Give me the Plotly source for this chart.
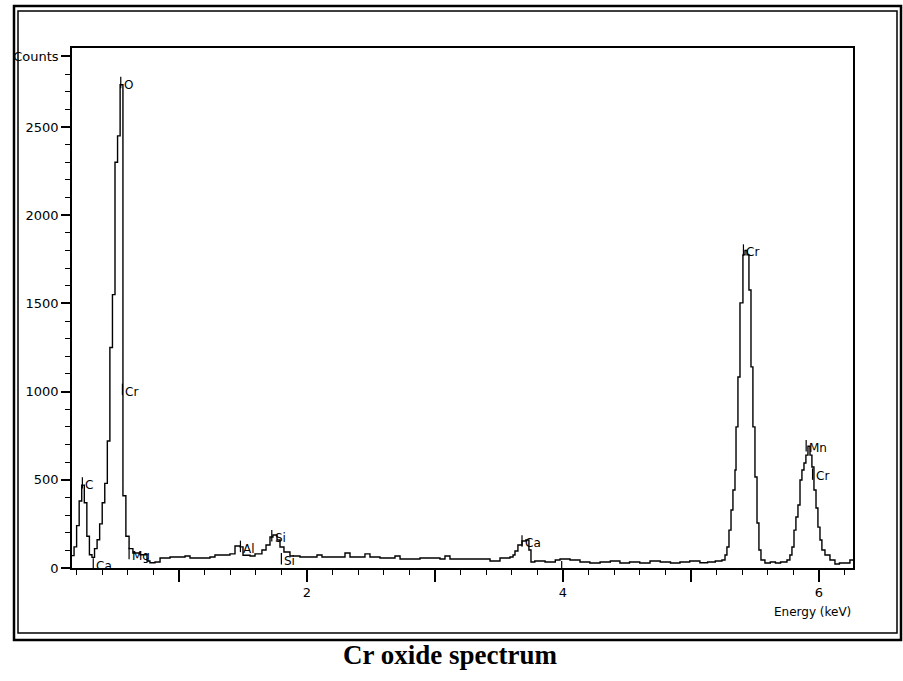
import plotly.graph_objects as go

# EDS spectrum of the Cr oxide: channel start energies (keV) and counts, drawn as steps
energy_kev = [
    0.164, 0.18, 0.20, 0.22, 0.24, 0.26, 0.28, 0.30, 0.32, 0.34, 0.36, 0.38, 0.40, 0.42,
    0.44, 0.46, 0.48, 0.50, 0.52, 0.54, 0.562, 0.585, 0.61, 0.64, 0.695, 0.75, 0.773,
    0.8125, 0.852, 0.93, 1.008, 1.047, 1.086, 1.164, 1.242, 1.281, 1.359, 1.398, 1.4375,
    1.477, 1.50, 1.555, 1.594, 1.648, 1.68, 1.711, 1.734, 1.766, 1.789, 1.82, 1.867,
    1.945, 2.078, 2.117, 2.297, 2.336, 2.453, 2.492, 2.57, 2.6875, 2.727, 2.883, 3.039,
    3.078, 3.117, 3.35, 3.43, 3.508, 3.586, 3.61, 3.625, 3.648, 3.68, 3.71, 3.734, 3.75,
    3.78, 3.86, 3.94, 3.977, 4.055, 4.133, 4.21, 4.29, 4.37, 4.445, 4.52, 4.60, 4.68,
    4.76, 4.84, 4.914, 4.99, 5.07, 5.13, 5.19, 5.242, 5.266, 5.281, 5.297, 5.313, 5.328,
    5.344, 5.352, 5.367, 5.383, 5.406, 5.422, 5.438, 5.453, 5.469, 5.484, 5.50, 5.516,
    5.531, 5.547, 5.578, 5.62, 5.66, 5.70, 5.75, 5.773, 5.789, 5.805, 5.82, 5.836, 5.852,
    5.867, 5.883, 5.898, 5.914, 5.93, 5.945, 5.961, 5.977, 5.992, 6.008, 6.023, 6.047,
    6.086, 6.125, 6.16, 6.203, 6.242, 6.266,
]
counts = [
    70, 120, 240, 380, 470, 370, 180, 75, 60, 110, 160, 250, 370, 480,
    720, 1250, 1550, 2300, 2450, 2740, 410, 180, 110, 85, 75, 40, 30,
    34, 57, 62, 62, 68, 57, 57, 62, 74, 74, 80, 125,
    120, 72, 68, 80, 102, 130, 176, 187, 159, 119, 91, 68,
    62, 74, 62, 85, 62, 80, 62, 57, 68, 51, 57, 51,
    68, 51, 51, 40, 57, 62, 74, 96, 130, 153, 159, 102, 34,
    40, 34, 45, 51, 45, 34, 28, 34, 40, 28, 34, 28, 40,
    34, 28, 34, 40, 30, 34, 40, 45, 74, 119, 215, 329, 442,
    556, 800, 1083, 1503, 1775, 1800, 1775, 1576, 1140, 800, 516, 255,
    102, 45, 28, 34, 28, 34, 45, 74, 119, 215, 289, 357, 499,
    556, 595, 640, 690, 640, 573, 442, 340, 232, 159, 102, 74,
    45, 23, 28, 28, 45, 45,
]

# Element line markers: label, energy (keV), counts where the marker sits
elem_text = ["C", "O", "Cr", "Ca", "Mg", "Al", "Si", "Si", "Ca", "Ca", "Cr", "Mn", "Cr"]
elem_kev = [0.245, 0.545, 0.558, 0.33, 0.61, 1.48, 1.725, 1.80, 3.68, 3.99, 5.41, 5.90, 5.95]
elem_cnt = [470, 2740, 1000, 10, 70, 110, 170, 40, 140, -5, 1790, 680, 520]

x_major = [1, 2, 3, 4, 5, 6]
x_major_text = ["", "2", "", "4", "", "6"]
y_major = [0, 500, 1000, 1500, 2000, 2500, 2900]
y_major_text = ["0", "500", "1000", "1500", "2000", "2500", "Counts"]

fig = go.Figure()
fig.add_trace(go.Scatter(
    x=energy_kev, y=counts, mode="lines", line_shape="hv",
    line=dict(color="black", width=1.4), hoverinfo="skip", showlegend=False,
))

# small vertical markers beside each labelled line
for e, c in zip(elem_kev, elem_cnt):
    fig.add_shape(type="line", xref="x", yref="y", x0=e, x1=e, y0=c - 20, y1=c + 45,
                  line=dict(color="black", width=1.2))
for t, e, c in zip(elem_text, elem_kev, elem_cnt):
    fig.add_annotation(x=e, y=c, text=t, showarrow=False, xanchor="left", yanchor="middle",
                       xshift=1, font=dict(family="DejaVu Sans", size=12, color="black"))

fig.add_annotation(xref="paper", yref="paper", x=1.0, y=-0.085, text="Energy (keV)",
                   showarrow=False, xanchor="right", yanchor="middle",
                   font=dict(family="DejaVu Sans", size=12, color="black"))

fig.add_annotation(xref="paper", yref="paper", x=(450 - 72) / 781, y=(568 - 655) / 520,
                   text="<b>Cr oxide spectrum</b>", showarrow=False,
                   xanchor="center", yanchor="middle",
                   font=dict(family="Liberation Serif", size=27, color="black"))

# double border around the chart panel
def px_box(x0, y0, x1, y1):
    return dict(x0=(x0 - 72) / 781, x1=(x1 - 72) / 781,
                y0=(568 - y0) / 520, y1=(568 - y1) / 520)

fig.add_shape(type="rect", xref="paper", yref="paper", **px_box(14, 6, 901, 640),
              line=dict(color="black", width=2.5), layer="above")
fig.add_shape(type="rect", xref="paper", yref="paper", **px_box(18, 11, 897, 633),
              line=dict(color="black", width=1.5), layer="above")

axis_font = dict(family="DejaVu Sans", size=13, color="black")
fig.update_xaxes(
    range=[0.164, 6.266], tickvals=x_major, ticktext=x_major_text,
    ticks="outside", ticklen=12, tickwidth=1.5, tickcolor="black",
    minor=dict(tick0=0, dtick=0.2, ticks="outside", ticklen=5, tickwidth=1.3, tickcolor="black"),
    showline=True, linecolor="black", linewidth=1.5, mirror=True,
    showgrid=False, zeroline=False, tickfont=axis_font,
)
fig.update_yaxes(
    range=[0, 2948], tickvals=y_major, ticktext=y_major_text,
    ticks="outside", ticklen=9, tickwidth=1.5, tickcolor="black",
    minor=dict(tick0=0, dtick=100, ticks="outside", ticklen=5, tickwidth=1.3, tickcolor="black"),
    showline=True, linecolor="black", linewidth=1.5, mirror=True,
    showgrid=False, zeroline=False, tickfont=axis_font,
)
fig.update_layout(
    width=903, height=681, autosize=False,
    margin=dict(l=72, r=50, t=48, b=113),
    paper_bgcolor="white", plot_bgcolor="white",
    showlegend=False,
)

fig.write_html("out.html")
